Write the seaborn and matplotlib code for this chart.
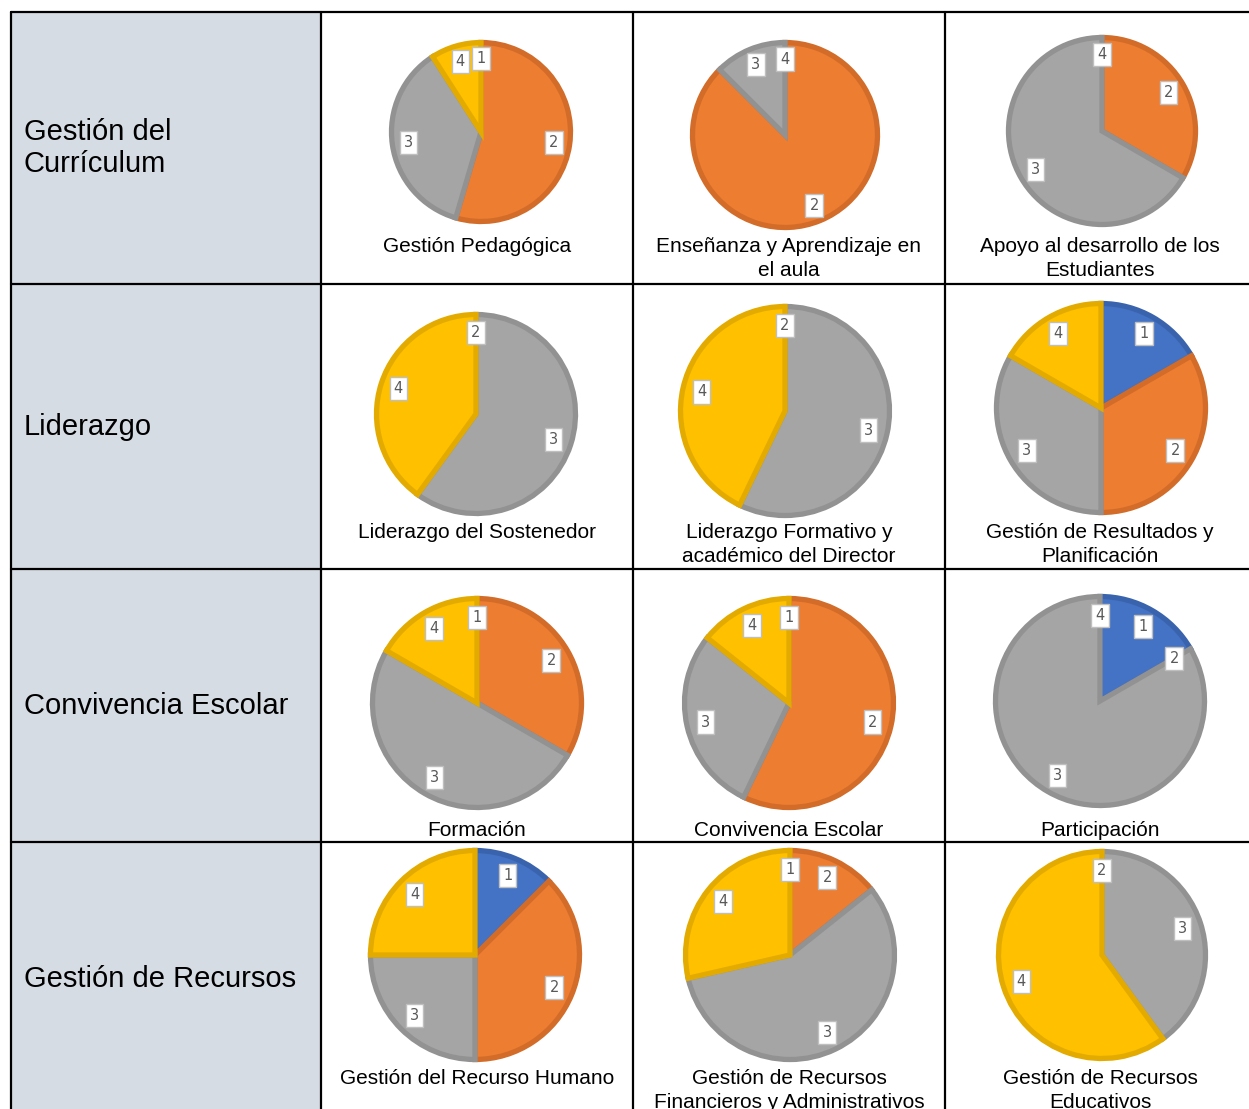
import matplotlib.pyplot as plt
import numpy as np
import seaborn as sns

# categories 1..4 (clockwise from 12 o'clock), counts
categories = ["1", "2", "3", "4"]

row_labels = ["Gestión del\nCurrículum", "Liderazgo", "Convivencia Escolar", "Gestión de Recursos"]

pie_titles = [
    ["Gestión Pedagógica", "Enseñanza y Aprendizaje en\nel aula", "Apoyo al desarrollo de los\nEstudiantes"],
    ["Liderazgo del Sostenedor", "Liderazgo Formativo y\nacadémico del Director", "Gestión de Resultados y\nPlanificación"],
    ["Formación", "Convivencia Escolar", "Participación"],
    ["Gestión del Recurso Humano", "Gestión de Recursos\nFinancieros y Administrativos", "Gestión de Recursos\nEducativos"],
]

pie_values = [
    [[0, 6, 4, 1], [0, 7, 1, 0], [0, 1, 2, 0]],
    [[0, 0, 3, 2], [0, 0, 4, 3], [1, 2, 2, 1]],
    [[0, 2, 3, 1], [0, 4, 2, 1], [1, 0, 5, 0]],
    [[1, 3, 2, 2], [0, 1, 4, 2], [0, 0, 2, 3]],
]

# labels that Excel dropped because they overlapped
hidden_labels = [
    [[], ["1"], ["1"]],
    [["1"], ["1"], []],
    [[], [], []],
    [[], [], ["1"]],
]

W, H = 1249, 1109
fills = sns.color_palette(["#4472C4", "#ED7D31", "#A5A5A5", "#FFC000"])
edges = sns.color_palette(["#3A63AD", "#D26C28", "#929292", "#E3AA00"])

sns.set_theme(style="white")
plt.rcParams["font.family"] = ["Liberation Sans", "DejaVu Sans"]

fig = plt.figure(figsize=(W / 100, H / 100), dpi=100)
ax = fig.add_axes([0, 0, 1, 1])

col_x = [11, 321, 633, 945, W + 5]
row_y = [12, 284, 569, 842, H + 5]

# pie centres / radii in pixels (top-left origin)
centres = [
    [(481, 132, 92), (785, 135, 95), (1102, 131, 96)],
    [(476, 414, 102), (785, 411, 107), (1101, 408, 107)],
    [(477, 703, 107), (789, 703, 107), (1100, 701, 107)],
    [(475, 955, 107), (790, 955, 107), (1102, 955, 106)],
]
title_x = [477, 789, 1100]
title_y = [247, 533, 830, 1078]


def fy(y):
    return H - y


for r in range(4):
    for c in range(3):
        vals = pie_values[r][c]
        cx, cy, rad = centres[r][c]
        wedges, _ = ax.pie(vals, colors=fills, startangle=90, counterclock=False,
                           center=(cx, fy(cy)), radius=rad - 2.5,
                           wedgeprops=dict(linewidth=3.8))
        for w, ec, v in zip(wedges, edges, vals):
            w.set_edgecolor(ec)
            if v == 0:
                w.set_visible(False)
        # data labels at 0.8 r along each slice's mid angle
        total = sum(vals)
        start = 0.0
        for cat, v in zip(categories, vals):
            frac = v / total
            mid = (start + frac / 2) * 2 * np.pi
            start += frac
            if cat in hidden_labels[r][c]:
                continue
            lx = cx + 0.8 * rad * np.sin(mid)
            ly = cy - 0.8 * rad * np.cos(mid)
            ax.text(lx, fy(ly), cat, ha="center", va="center", fontsize=10.5,
                    color="#595959", family=["DejaVu Sans"], zorder=6,
                    bbox=dict(boxstyle="square,pad=0.28", fc="white", ec="#BFBFBF", lw=1))
        # title under the pie
        for i, line in enumerate(pie_titles[r][c].split("\n")):
            ax.text(title_x[c], fy(title_y[r] + 24 * i), line, ha="center", va="center",
                    fontsize=15, color="black")

# first column background and row labels
ax.add_patch(plt.Rectangle((col_x[0], 0), col_x[1] - col_x[0], fy(row_y[0]),
                           facecolor="#D6DCE4", edgecolor="none", zorder=0))
label_y = [148, 427, 706, 979]
for r, lab in enumerate(row_labels):
    lines = lab.split("\n")
    for i, line in enumerate(lines):
        yy = label_y[r] + 33 * (i - (len(lines) - 1) / 2)
        ax.text(24, fy(yy), line, ha="left", va="center", fontsize=21, color="black")

# grid lines of the table
for x in col_x[:-1]:
    ax.plot([x, x], [fy(row_y[0]), -5], color="black", lw=1.6, zorder=5)
for y in row_y[:-1]:
    ax.plot([col_x[0], W + 5], [fy(y), fy(y)], color="black", lw=1.6, zorder=5)

ax.set_xlim(0, W)
ax.set_ylim(0, H)
ax.set_aspect("auto")
ax.axis("off")

fig.savefig("out.png", dpi=100, facecolor="white")
